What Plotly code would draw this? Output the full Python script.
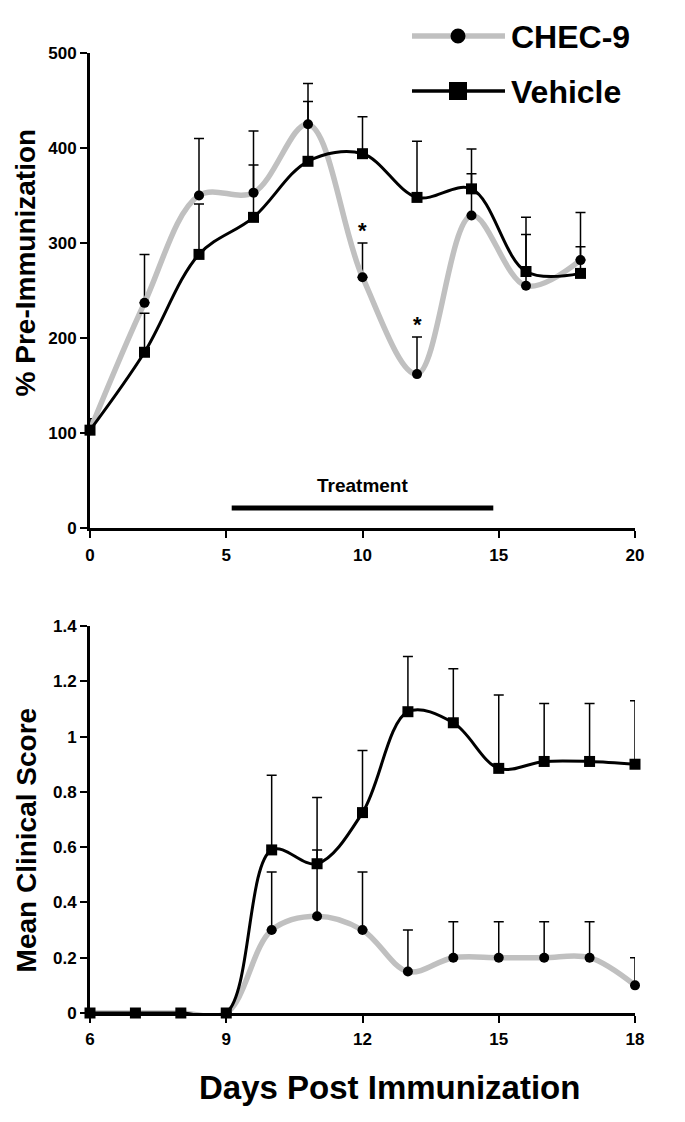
import plotly.graph_objects as go

# ---------------- data ----------------
days_top = [0, 2, 4, 6, 8, 10, 12, 14, 16, 18]
chec_top = [103, 237, 350, 353, 425, 264, 162, 329, 255, 282]
chec_top_sem = [12, 51, 60, 65, 43, 36, 39, 44, 54, 50]
veh_top = [103, 185, 288, 327, 386, 394, 348, 357, 270, 268]
veh_top_sem = [None, 41, 53, 55, 63, 39, 59, 42, 57, 28]

days_bot = [6, 7, 8, 9, 10, 11, 12, 13, 14, 15, 16, 17, 18]
chec_bot = [0, 0, 0, 0, 0.30, 0.35, 0.30, 0.15, 0.20, 0.20, 0.20, 0.20, 0.10]
chec_bot_sem = [None, None, None, None, 0.21, 0.24, 0.21, 0.15, 0.13, 0.13, 0.13, 0.13, 0.10]
veh_bot = [0, 0, 0, 0, 0.59, 0.54, 0.725, 1.09, 1.05, 0.885, 0.91, 0.91, 0.90]
veh_bot_sem = [None, None, None, None, 0.27, 0.24, 0.225, 0.20, 0.195, 0.265, 0.21, 0.21, 0.23]

sig_days = [10, 12]            # days marked with *
treatment_start, treatment_end, treatment_level = 5.2, 14.8, 21

top_xticks = [0, 5, 10, 15, 20]
top_yticks = [0, 100, 200, 300, 400, 500]
bot_xticks = [6, 9, 12, 15, 18]
bot_yticks = [0, 0.2, 0.4, 0.6, 0.8, 1.0, 1.2, 1.4]
bot_yticktext = ["0", "0.2", "0.4", "0.6", "0.8", "1", "1.2", "1.4"]

series_names = ["CHEC-9", "Vehicle"]

# ---------------- style ----------------
FONT = "Liberation Sans, Arial, Helvetica, sans-serif"
GRAY = "#c0c0c0"
BLACK = "#000000"

fig = go.Figure()


def add_series(x, y, sem, name, color, width, symbol, msize, xa, ya):
    fig.add_trace(go.Scatter(
        x=x, y=y, name=name, mode="lines+markers",
        line=dict(color=color, width=width, shape="spline", smoothing=1.0),
        marker=dict(symbol=symbol, size=msize, color=BLACK),
        error_y=dict(type="data", symmetric=False, array=sem,
                     arrayminus=[0] * len(sem), color=BLACK,
                     thickness=1.5, width=5),
        xaxis=xa, yaxis=ya, cliponaxis=False, showlegend=False,
    ))


add_series(days_top, chec_top, chec_top_sem, series_names[0], GRAY, 5.5, "circle", 10, "x", "y")
add_series(days_top, veh_top, veh_top_sem, series_names[1], BLACK, 3, "square", 11, "x", "y")
add_series(days_bot, chec_bot, chec_bot_sem, series_names[0], GRAY, 5.5, "circle", 10, "x2", "y2")
add_series(days_bot, veh_bot, veh_bot_sem, series_names[1], BLACK, 3, "square", 11, "x2", "y2")

axis_common = dict(
    showline=True, linecolor=BLACK, linewidth=3, mirror=False,
    ticks="outside", ticklen=7, tickwidth=2, tickcolor=BLACK,
    showgrid=False, zeroline=False,
    tickfont=dict(family=FONT, size=17, color=BLACK, weight="bold"),
)

fig.update_layout(
    width=685, height=1122,
    margin=dict(l=82, r=58, t=45, b=117),
    paper_bgcolor="white", plot_bgcolor="white",
    showlegend=False,
    xaxis=dict(domain=[0, 1], anchor="y", range=[0, 20], tickvals=top_xticks,
               ticklabelstandoff=3, **axis_common),
    yaxis=dict(domain=[0.5052, 1.0], anchor="x", range=[0, 500], tickvals=top_yticks,
               **axis_common),
    xaxis2=dict(domain=[0, 1], anchor="y2", range=[6, 18], tickvals=bot_xticks,
                ticklabelstandoff=2, **axis_common),
    yaxis2=dict(domain=[0, 0.4031], anchor="x2", range=[0, 1.4], tickvals=bot_yticks,
                ticktext=bot_yticktext, **axis_common),
)

# significance stars
for d in sig_days:
    i = days_top.index(d)
    fig.add_annotation(x=d, y=chec_top[i] + chec_top_sem[i], xref="x", yref="y",
                       text="*", showarrow=False, yanchor="bottom", yshift=-2,
                       font=dict(family=FONT, size=22, color=BLACK, weight="bold"))

# treatment bar
fig.add_shape(type="line", xref="x", yref="y",
              x0=treatment_start, x1=treatment_end,
              y0=treatment_level, y1=treatment_level,
              line=dict(color=BLACK, width=5))
fig.add_annotation(x=(treatment_start + treatment_end) / 2, y=treatment_level, xref="x", yref="y",
                   text="Treatment", showarrow=False, yanchor="bottom", yshift=10,
                   font=dict(family=FONT, size=19, color=BLACK, weight="bold"))

# axis titles
title_font = dict(family=FONT, size=28, color=BLACK, weight="bold")
fig.add_annotation(x=-0.119, y=0.782, xref="paper", yref="paper", text="% Pre-Immunization",
                   textangle=-90, showarrow=False, xanchor="center", yanchor="middle", font=title_font)
fig.add_annotation(x=-0.117, y=0.18, xref="paper", yref="paper", text="Mean Clinical Score",
                   textangle=-90, showarrow=False, xanchor="center", yanchor="middle", font=title_font)
fig.add_annotation(x=0.55, y=-0.078, xref="paper", yref="paper", text="Days Post Immunization",
                   showarrow=False, xanchor="center", yanchor="middle",
                   font=dict(family=FONT, size=33, color=BLACK, weight="bold"))

# custom legend (long line samples); page pixel -> paper fraction
def px_x(p):
    return (p - 90) / 545.0


def px_y(p):
    return (1013 - p) / 960.0


leg = [(series_names[0], GRAY, 5.5, "circle", 15, 36),
       (series_names[1], BLACK, 3.5, "rect", 18, 91)]
for name, color, lw, shp, sz, py in leg:
    fig.add_shape(type="line", xref="paper", yref="paper",
                  x0=px_x(412), x1=px_x(505), y0=px_y(py), y1=px_y(py),
                  line=dict(color=color, width=lw))
    fig.add_shape(type=shp, xref="paper", yref="paper",
                  xsizemode="pixel", ysizemode="pixel",
                  xanchor=px_x(458), yanchor=px_y(py),
                  x0=-sz / 2, x1=sz / 2, y0=-sz / 2, y1=sz / 2,
                  fillcolor=BLACK, line=dict(color=BLACK, width=0))
    fig.add_annotation(x=px_x(509), y=px_y(py + 1), xref="paper", yref="paper", text=name,
                       showarrow=False, xanchor="left", yanchor="middle",
                       font=dict(family=FONT, size=32, color=BLACK, weight="bold"))

fig.write_html("out.html")
